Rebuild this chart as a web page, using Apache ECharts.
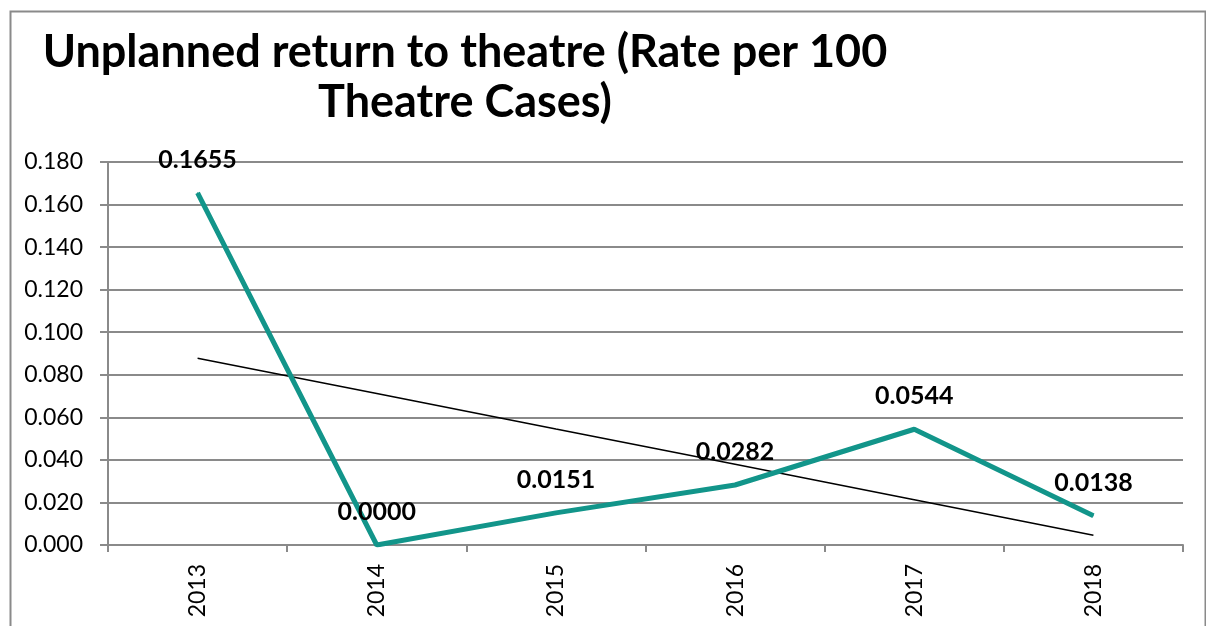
<!DOCTYPE html>
<html><head><meta charset="utf-8">
<script src="https://cdn.jsdelivr.net/npm/echarts@6/dist/echarts.min.js"></script>
<style>html,body{margin:0;padding:0;background:#fff}#c{width:1206px;height:626px}</style>
</head><body><div id="c"></div>
<script>
const categories = ['2013','2014','2015','2016','2017','2018'];
const rateValues = [0.1655, 0.0000, 0.0151, 0.0282, 0.0544, 0.0138];
const trendValues = [0.0878, 0.0712, 0.0545, 0.0379, 0.0213, 0.0046];
const yTicks = {min: 0, max: 0.18, interval: 0.02};
const titleText = 'Unplanned return to theatre (Rate per 100\nTheatre Cases)';

const FONT = 'Lato, "Open Sans", sans-serif';
const chart = echarts.init(document.getElementById('c'), null, {renderer: 'canvas'});
chart.setOption({
  animation: false,
  backgroundColor: '#fff',
  graphic: [{
    type: 'rect', left: 8, top: 9, z: 100, silent: true,
    shape: {width: 1195, height: 640},
    style: {fill: 'none', stroke: '#8a8a8a', lineWidth: 2}
  }],
  title: {
    text: titleText, left: 460, top: 22, textAlign: 'center',
    textStyle: {fontFamily: FONT, fontWeight: 'bold', fontSize: 45, lineHeight: 50, color: '#000'}
  },
  grid: {left: 108, right: 23, top: 162, bottom: 81},
  xAxis: {
    type: 'category', data: categories, boundaryGap: true,
    axisLine: {lineStyle: {color: '#8a8a8a', width: 2}},
    axisTick: {show: true, length: 7, lineStyle: {color: '#8a8a8a', width: 2}},
    axisLabel: {rotate: 90, margin: 19, fontFamily: FONT, fontSize: 23, color: '#000'}
  },
  yAxis: {
    type: 'value', min: yTicks.min, max: yTicks.max, interval: yTicks.interval,
    axisLine: {show: true, lineStyle: {color: '#8a8a8a', width: 2}},
    axisTick: {show: true, length: 8, lineStyle: {color: '#8a8a8a', width: 2}},
    splitLine: {lineStyle: {color: '#8a8a8a', width: 2}},
    axisLabel: {margin: 25, fontFamily: FONT, fontSize: 23, color: '#000',
      formatter: v => v.toFixed(3)}
  },
  series: [{
    name: 'Trend', type: 'line', data: trendValues, symbol: 'none', z: 3,
    lineStyle: {color: '#000', width: 1.5}
  }, {
    name: 'Rate', type: 'line', data: rateValues, symbol: 'circle', symbolSize: 1,
    showSymbol: true, z: 4,
    itemStyle: {color: '#12958a'},
    lineStyle: {color: '#12958a', width: 5},
    label: {show: true, position: 'top', distance: 20, fontFamily: FONT, fontWeight: 'bold',
      fontSize: 25, color: '#000', formatter: p => Number(p.value).toFixed(4)}
  }]
});
</script></body></html>
